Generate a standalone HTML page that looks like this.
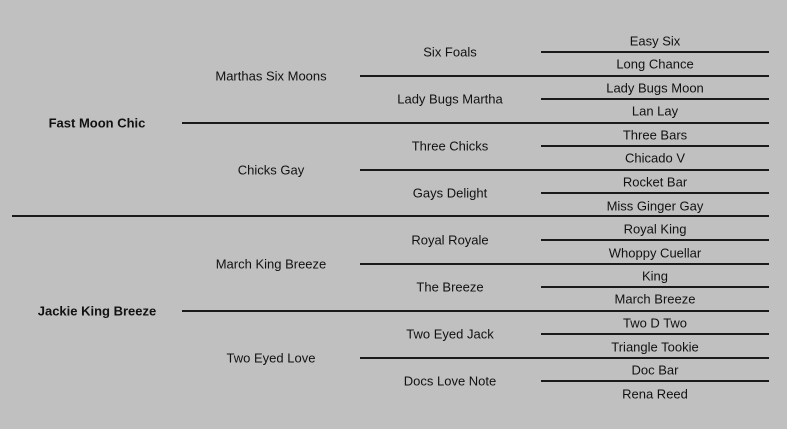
<!DOCTYPE html><html><head><style>
body{margin:0;width:787px;height:429px;background:#c0c0c0;position:relative;overflow:hidden;font-family:"Liberation Sans",Arial,sans-serif;font-size:13px;color:#111}
.l{position:absolute;height:2px;background:#1a1a1a}
.t{position:absolute;transform:translate(-50%,-50%);white-space:nowrap}
.b{font-weight:bold}
</style></head><body>
<div class="l" style="left:541px;width:228px;top:51px"></div>
<div class="l" style="left:360px;width:409px;top:75px"></div>
<div class="l" style="left:541px;width:228px;top:98px"></div>
<div class="l" style="left:182px;width:587px;top:122px"></div>
<div class="l" style="left:541px;width:228px;top:145px"></div>
<div class="l" style="left:360px;width:409px;top:169px"></div>
<div class="l" style="left:541px;width:228px;top:192px"></div>
<div class="l" style="left:12px;width:757px;top:215px"></div>
<div class="l" style="left:541px;width:228px;top:239px"></div>
<div class="l" style="left:360px;width:409px;top:263px"></div>
<div class="l" style="left:541px;width:228px;top:286px"></div>
<div class="l" style="left:182px;width:587px;top:310px"></div>
<div class="l" style="left:541px;width:228px;top:333px"></div>
<div class="l" style="left:360px;width:409px;top:357px"></div>
<div class="l" style="left:541px;width:228px;top:380px"></div>

<div class="t b" style="left:97px;top:123px">Fast Moon Chic</div>
<div class="t b" style="left:97px;top:311px">Jackie King Breeze</div>

<div class="t" style="left:271px;top:76px">Marthas Six Moons</div>
<div class="t" style="left:271px;top:170px">Chicks Gay</div>
<div class="t" style="left:271px;top:264px">March King Breeze</div>
<div class="t" style="left:271px;top:358px">Two Eyed Love</div>

<div class="t" style="left:450px;top:52px">Six Foals</div>
<div class="t" style="left:450px;top:99px">Lady Bugs Martha</div>
<div class="t" style="left:450px;top:146px">Three Chicks</div>
<div class="t" style="left:450px;top:193px">Gays Delight</div>
<div class="t" style="left:450px;top:240px">Royal Royale</div>
<div class="t" style="left:450px;top:287px">The Breeze</div>
<div class="t" style="left:450px;top:334px">Two Eyed Jack</div>
<div class="t" style="left:450px;top:381px">Docs Love Note</div>

<div class="t" style="left:655px;top:41px">Easy Six</div>
<div class="t" style="left:655px;top:64px">Long Chance</div>
<div class="t" style="left:655px;top:88px">Lady Bugs Moon</div>
<div class="t" style="left:655px;top:111px">Lan Lay</div>
<div class="t" style="left:655px;top:135px">Three Bars</div>
<div class="t" style="left:655px;top:158px">Chicado V</div>
<div class="t" style="left:655px;top:182px">Rocket Bar</div>
<div class="t" style="left:655px;top:206px">Miss Ginger Gay</div>
<div class="t" style="left:655px;top:229px">Royal King</div>
<div class="t" style="left:655px;top:253px">Whoppy Cuellar</div>
<div class="t" style="left:655px;top:276px">King</div>
<div class="t" style="left:655px;top:299px">March Breeze</div>
<div class="t" style="left:655px;top:323px">Two D Two</div>
<div class="t" style="left:655px;top:347px">Triangle Tookie</div>
<div class="t" style="left:655px;top:370px">Doc Bar</div>
<div class="t" style="left:655px;top:394px">Rena Reed</div>
</body></html>
